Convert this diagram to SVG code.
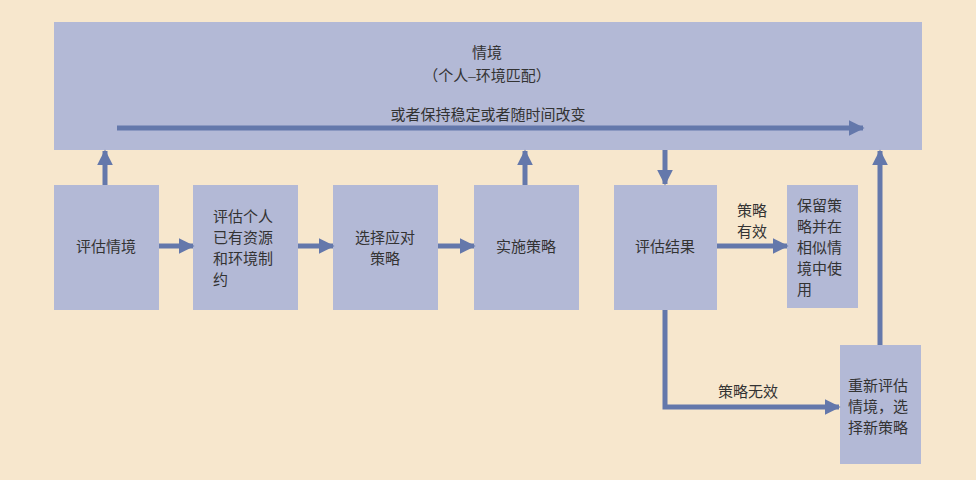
<svg xmlns="http://www.w3.org/2000/svg" width="976" height="480" viewBox="0 0 976 480">
<defs>
<style>
.n{fill:#b3b9d6}
.t{font-family:"Liberation Serif","Noto Sans CJK SC",serif;font-size:15px;fill:#333}
.c{fill:none;stroke:#6478ab;stroke-width:5}
</style>
<marker id="a" viewBox="0 0 10 10" refX="9" refY="5" markerWidth="3.2" markerHeight="3.2" orient="auto" markerUnits="strokeWidth"><path d="M0,0 L10,5 L0,10 z" fill="#6478ab"/></marker>
</defs>
<rect width="976" height="480" fill="#f7e7cd"/>
<g id="situation"><rect class="n" x="54" y="22" width="868" height="128"/>
<text class="t" x="487" y="58" text-anchor="middle">情境</text>
<text class="t" x="487" y="81" text-anchor="middle">（个人–环境匹配）</text>
<text class="t" x="488" y="120" text-anchor="middle">或者保持稳定或者随时间改变</text></g>
<g id="n1"><rect class="n" x="54" y="185" width="105" height="125"/><text class="t" x="106" y="252" text-anchor="middle">评估情境</text></g>
<g id="n2"><rect class="n" x="193" y="185" width="105" height="125"/><text class="t" x="213"><tspan x="213" y="222">评估个人</tspan><tspan x="213" y="243">已有资源</tspan><tspan x="213" y="264">和环境制</tspan><tspan x="213" y="285">约</tspan></text></g>
<g id="n3"><rect class="n" x="333" y="185" width="105" height="125"/><text class="t" text-anchor="middle"><tspan x="385" y="243">选择应对</tspan><tspan x="385" y="264">策略</tspan></text></g>
<g id="n4"><rect class="n" x="474" y="185" width="105" height="125"/><text class="t" x="526" y="252" text-anchor="middle">实施策略</text></g>
<g id="n5"><rect class="n" x="614" y="185" width="103" height="125"/><text class="t" x="665" y="252" text-anchor="middle">评估结果</text></g>
<g id="n6"><rect class="n" x="787" y="185" width="71" height="123"/><text class="t"><tspan x="797" y="211">保留策</tspan><tspan x="797" y="232">略并在</tspan><tspan x="797" y="253">相似情</tspan><tspan x="797" y="274">境中使</tspan><tspan x="797" y="295">用</tspan></text></g>
<g id="n7"><rect class="n" x="840" y="345" width="81" height="119"/><text class="t"><tspan x="848" y="391">重新评估</tspan><tspan x="848" y="412">情境，选</tspan><tspan x="848" y="433">择新策略</tspan></text></g>
<g id="connectors">
<path class="c" marker-end="url(#a)" d="M117,128 H863"/>
<path class="c" marker-end="url(#a)" d="M105,185 V151"/>
<path class="c" marker-end="url(#a)" d="M525,185 V151"/>
<path class="c" marker-end="url(#a)" d="M880,345 V151"/>
<path class="c" marker-end="url(#a)" d="M665,150 V184"/>
<path class="c" marker-end="url(#a)" d="M159,246 H193"/>
<path class="c" marker-end="url(#a)" d="M298,246 H333"/>
<path class="c" marker-end="url(#a)" d="M438,246 H474"/>
<path class="c" marker-end="url(#a)" d="M717,246 H787"/>
<path class="c" marker-end="url(#a)" d="M665,310 V407 H839"/>
<text class="t" x="752" y="216" text-anchor="middle">策略</text>
<text class="t" x="752" y="237" text-anchor="middle">有效</text>
<text class="t" x="748" y="397" text-anchor="middle">策略无效</text>
</g>
</svg>
